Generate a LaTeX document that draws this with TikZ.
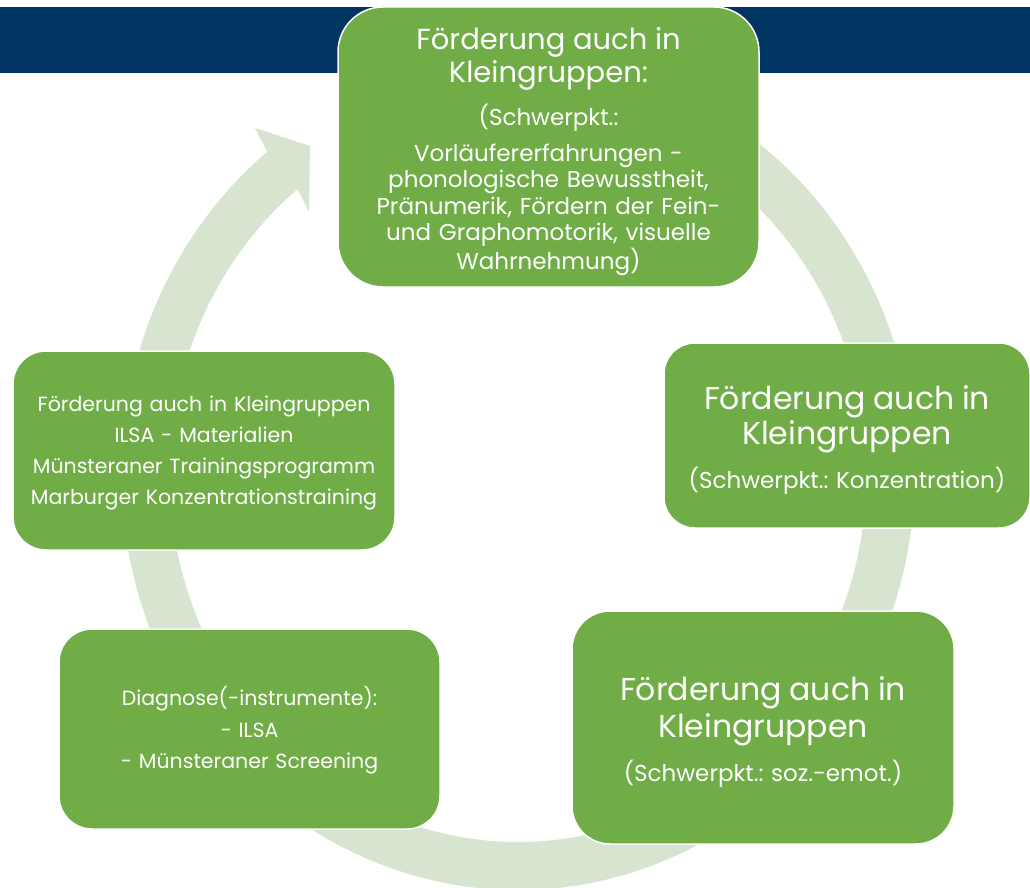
\documentclass[tikz,border=0pt]{standalone}
\usepackage{fontspec}
\setmainfont{Poppins}
\usetikzlibrary{calc}
\definecolor{bannerblue}{HTML}{003462}
\definecolor{boxgreen}{HTML}{70AD47}
\definecolor{ringgreen}{HTML}{D7E4CF}
\setlength{\parindent}{0pt}
\frenchspacing
\newcommand{\headfont}[2]{\fontsize{#1}{#2}\selectfont}
\newcommand{\textpush}[1]{\par\kern-#1}

\begin{document}
\begin{tikzpicture}[x=1pt,y=-1pt,
cyclebox/.style={fill=boxgreen,draw=white,line width=1.5pt,inner sep=0pt,align=center,text=white,font=\fontsize{23}{26.5}\selectfont},
textdown/.style={execute at end node={\textpush{#1}}},
ring/.style={fill=ringgreen,draw=none}]
\useasboundingbox (0,0) rectangle (1030,888);
\fill[white] (0,0) rectangle (1030,888);
\fill[bannerblue] (0,7) rectangle (1030,73);
% circular arrow behind the boxes
\coordinate (ringc) at (518,474);
\fill[ring] (ringc) ++(290:396.5 and 416)
  arc[start angle=290,end angle=590.75,x radius=396.5,y radius=416]
  -- (255,128) -- (310,146) -- (309,212)
  -- ($(ringc)+(230.75:348.5 and 368)$)
  arc[start angle=590.75,end angle=290,x radius=348.5,y radius=368] -- cycle;
% boxes
\node[cyclebox,textdown=9pt,minimum width=421pt,minimum height=280pt,text width=411pt,rounded corners=45pt] (vorl) at (548.5,147)
{{\headfont{29}{33}Förderung auch in\par Kleingruppen:\par}
\vspace{13pt}
(Schwerpkt.:\par
\vspace{9pt}
Vorläufererfahrungen -\par
phonologische Bewusstheit,\par
Pränumerik, Fördern der Fein-\par
und Graphomotorik, visuelle\par
Wahrnehmung)};
\node[cyclebox,textdown=9pt,minimum width=366pt,minimum height=185pt,text width=356pt,rounded corners=31pt] (konz) at (847,435.5)
{{\headfont{31.5}{35}Förderung auch in\par Kleingruppen\par}
\vspace{14pt}
(Schwerpkt.: Konzentration)};
\node[cyclebox,textdown=9pt,minimum width=382pt,minimum height=233pt,text width=372pt,rounded corners=38pt] (sozemo) at (763,727.5)
{{\headfont{31.5}{37}Förderung auch in\par Kleingruppen\par}
\vspace{14pt}
(Schwerpkt.: soz.-emot.)};
\node[cyclebox,textdown=3pt,minimum width=381pt,minimum height=200pt,text width=371pt,rounded corners=33pt,font=\fontsize{20.5}{31.5}\selectfont] (diag) at (249.5,729)
{Diagnose(-instrumente):\par
- ILSA\par
- Münsteraner Screening};
\node[cyclebox,textdown=4pt,minimum width=382pt,minimum height=199pt,text width=372pt,rounded corners=33pt,font=\fontsize{20.5}{31}\selectfont] (mat) at (204,450.5)
{Förderung auch in Kleingruppen\par
ILSA - Materialien\par
Münsteraner Trainingsprogramm\par
Marburger Konzentrationstraining};
\end{tikzpicture}
\end{document}
